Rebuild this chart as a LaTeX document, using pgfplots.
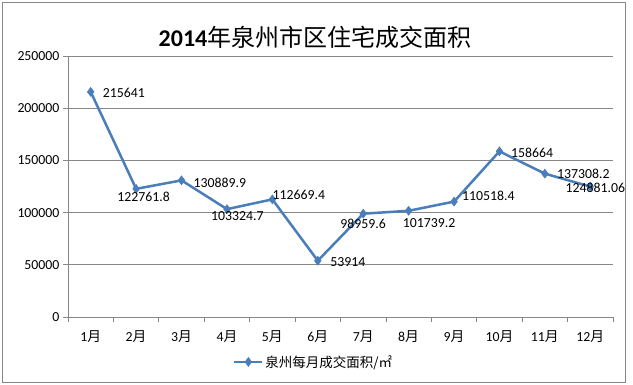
\documentclass[border=0pt]{standalone}
\usepackage{pgfplots}
\pgfplotsset{compat=1.18}
\usepackage{pgfplotstable}
\usepackage{fontspec}
\setmainfont{Carlito}
\newfontfamily\cjk{Noto Sans CJK SC}
\definecolor{ser}{HTML}{4A7EBB}
\definecolor{gridc}{HTML}{868686}
\newcommand{\yue}{{\cjk 月}}

\pgfplotstableread{
x y
1 215641
2 122761.8
3 130889.9
4 103324.7
5 112669.4
6 53914
7 98959.6
8 101739.2
9 110518.4
10 158664
11 137308.2
12 124881.06
}\data

\newcommand{\lab}[6]{%
\addplot[forget plot, draw=none, mark=none, nodes near coords, point meta=explicit symbolic,
  every node near coord/.append style={anchor=#4, xshift=#5pt, yshift=#6pt,
    font=\fontsize{13.8}{15}\selectfont, text=black, inner sep=0pt}]
  coordinates {(#1,#2) [#3]};}

\begin{document}
\begin{tikzpicture}[x=1pt,y=1pt]
\useasboundingbox (0,0) rectangle (633,384);
\draw[gridc, line width=1pt] (2,2) rectangle (625,381);
\node[font=\fontsize{24}{28}\selectfont] at (315,347) {\bfseries 2014{\cjk\mdseries 年泉州市区住宅成交面积}};
\begin{axis}[
  at={(68pt,67pt)}, anchor=south west,
  scale only axis, width=545pt, height=261pt,
  xmin=0.5, xmax=12.5, ymin=0, ymax=250000,
  axis x line*=bottom, axis y line*=left,
  axis line style={gridc, line width=0.75pt},
  ytick={0,50000,100000,150000,200000,250000},
  scaled y ticks=false,
  yticklabel style={/pgf/number format/.cd, fixed, 1000 sep={}, assume math mode=true},
  xtick={0.5,1.5,2.5,3.5,4.5,5.5,6.5,7.5,8.5,9.5,10.5,11.5,12.5},
  xticklabels={1\yue,2\yue,3\yue,4\yue,5\yue,6\yue,7\yue,8\yue,9\yue,10\yue,11\yue,12\yue,{}},
  xticklabel style={xshift=22.71pt, yshift=-5pt},
  ticklabel style={font=\fontsize{13.8}{15}\selectfont, text=black},
  tick align=outside, major tick length=5pt,
  tick style={gridc, line width=0.75pt},
  ymajorgrids, grid style={gridc, line width=0.75pt},
  legend style={at={(0.451,-0.172)}, anchor=center, draw=none, fill=none,
    font=\fontsize{13.5}{15}\selectfont, legend cell align=left},
  legend image code/.code={\draw[#1,mark=none,line width=2pt] (0pt,0pt)--(28pt,0pt);
    \draw[#1, only marks] plot coordinates {(14pt,0pt)};},
]
\addplot[ser, line width=2.5pt, mark=diamond*, mark size=4.5pt,
  mark options={fill=ser, draw=ser, line width=0.5pt}] table[x=x, y=y] {\data};
\addlegendentry{\cjk 泉州每月成交面积/㎡}
\lab{1}{215641}{215641}{west}{12}{-1}
\lab{2}{122761.8}{122761.8}{north}{7.5}{-3}
\lab{3}{130889.9}{130889.9}{west}{12}{-2}
\lab{4}{103324.7}{103324.7}{north}{10.5}{-2}
\lab{5}{112669.4}{112669.4}{west}{0}{4}
\lab{6}{53914}{53914}{west}{12.5}{-1}
\lab{7}{98959.6}{98959.6}{north}{0}{-5}
\lab{8}{101739.2}{101739.2}{north}{20.5}{-8}
\lab{9}{110518.4}{110518.4}{west}{8}{5.6}
\lab{10}{158664}{158664}{west}{11.5}{-1.6}
\lab{11}{137308.2}{137308.2}{west}{12}{0}
\lab{12}{124881.06}{124881.06}{center}{5}{-1.4}
\end{axis}
\end{tikzpicture}
\end{document}
